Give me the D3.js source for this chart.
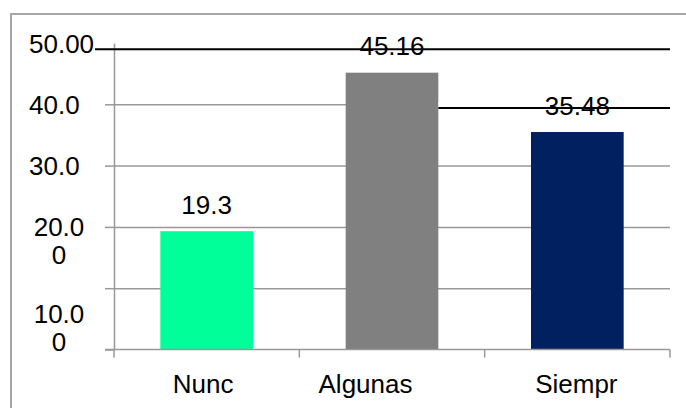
<!DOCTYPE html>
<html>
<head>
<meta charset="utf-8">
<script src="https://cdn.jsdelivr.net/npm/d3@7"></script>
<style>
  html, body { margin: 0; padding: 0; background: #fff; }
  svg { display: block; }
  text { font-family: "Liberation Sans", Arial, sans-serif; fill: #000; }
</style>
</head>
<body>
<svg id="chart" width="686" height="408"></svg>
<script>
// ---- data ----
const categories = ["Nunc", "Algunas", "Siempr"];
const values = [19.3, 45.16, 35.48];
const valueLabels = ["19.3", "45.16", "35.48"];
const barColors = ["#00FF99", "#808080", "#002060"];
const yTicks = [0, 10, 20, 30, 40];
const yTickLabels = [
  { v: 50, lines: ["50.00"] },
  { v: 40, lines: ["40.0"] },
  { v: 30, lines: ["30.0"] },
  { v: 20, lines: ["20.0", "0"] },
  { v: 10, lines: ["10.0", "0"] }
];
// black annotation rules (values on the y scale)
const ruleValues = [49.0, 39.4];

// ---- layout / style ----
const W = 686, H = 408;
const plot = { left: 114, right: 670, top: 43, bottom: 349.5 };
const fontSize = 26;
const gridColor = "#999999";
const catLabelDx = [-3.5, -26.5, -1];
const yLabelShift = { 10: 25 };

const svg = d3.select("#chart");

// outer frame (extends beyond right and bottom edge)
svg.append("rect")
  .attr("x", 11).attr("y", 14)
  .attr("width", W).attr("height", H)
  .attr("fill", "none").attr("stroke", "#a6a6a6").attr("stroke-width", 2);

const x = d3.scaleBand()
  .domain(categories)
  .range([plot.left, plot.right])
  .paddingInner(0.5).paddingOuter(0.25);

const y = d3.scaleLinear().domain([0, 50]).range([plot.bottom, plot.top]);

// gridlines
const grid = svg.append("g")
  .attr("transform", `translate(${plot.left},0)`)
  .call(d3.axisLeft(y).tickValues(yTicks.filter(d => d > 0))
    .tickSize(-(plot.right - plot.left)).tickFormat(""));
grid.select(".domain").remove();
grid.selectAll("line").attr("stroke", gridColor).attr("stroke-width", 1.5);

// y axis with outer ticks
const yAxis = svg.append("g")
  .attr("transform", `translate(${plot.left},0)`)
  .call(d3.axisLeft(y).tickValues(yTicks).tickSize(9).tickSizeOuter(0).tickFormat(""));
yAxis.select(".domain").attr("stroke", gridColor).attr("stroke-width", 1.5);
yAxis.selectAll("line").attr("stroke", gridColor).attr("stroke-width", 1.5);

// y tick labels
yTickLabels.forEach(t => {
  const multi = t.lines.length > 1;
  const base = y(t.v) + 9.5 + (yLabelShift[t.v] || 0);
  const txt = svg.append("text")
    .attr("font-size", fontSize)
    .attr("text-anchor", multi ? "middle" : "start");
  t.lines.forEach((ln, i) => {
    txt.append("tspan")
      .attr("x", multi ? 59 : 29)
      .attr("y", base + i * 28)
      .text(ln);
  });
});

// bars
svg.append("g").selectAll("rect")
  .data(categories)
  .join("rect")
  .attr("x", d => x(d))
  .attr("width", x.bandwidth())
  .attr("y", (d, i) => y(values[i]))
  .attr("height", (d, i) => y(0) - y(values[i]))
  .attr("fill", (d, i) => barColors[i]);

// mask over the 40 gridline right of the tallest bar (white shape under the rule)
svg.append("rect")
  .attr("x", x("Algunas") + x.bandwidth())
  .attr("y", y(ruleValues[1]) - 6)
  .attr("width", plot.right - (x("Algunas") + x.bandwidth()))
  .attr("height", 6)
  .attr("fill", "#fff");

// x axis
const xAxis = svg.append("g")
  .attr("transform", `translate(0,${plot.bottom})`);
xAxis.append("line")
  .attr("x1", plot.left - 9).attr("x2", plot.right)
  .attr("stroke", gridColor).attr("stroke-width", 1.5);
const bounds = categories.map(c => x(c) - x.step() * x.paddingInner() / 2)
  .concat([plot.right]);
bounds[0] = plot.left;
xAxis.selectAll("line.tick")
  .data(bounds)
  .join("line")
  .attr("class", "tick")
  .attr("x1", d => d).attr("x2", d => d)
  .attr("y1", 0).attr("y2", 8)
  .attr("stroke", gridColor).attr("stroke-width", 1.5);

// category labels
svg.append("g").selectAll("text")
  .data(categories)
  .join("text")
  .attr("x", (d, i) => x(d) + x.bandwidth() / 2 + catLabelDx[i])
  .attr("y", 393)
  .attr("text-anchor", "middle")
  .attr("font-size", fontSize)
  .text(d => d);

// black rules
svg.append("line")
  .attr("x1", 95).attr("x2", plot.right)
  .attr("y1", y(ruleValues[0])).attr("y2", y(ruleValues[0]))
  .attr("stroke", "#000").attr("stroke-width", 2);
svg.append("line")
  .attr("x1", x("Algunas") + x.bandwidth()).attr("x2", plot.right)
  .attr("y1", y(ruleValues[1])).attr("y2", y(ruleValues[1]))
  .attr("stroke", "#000").attr("stroke-width", 2);

// value labels
svg.append("g").selectAll("text")
  .data(categories)
  .join("text")
  .attr("x", d => x(d) + x.bandwidth() / 2)
  .attr("y", (d, i) => y(values[i]) - 17.5)
  .attr("text-anchor", "middle")
  .attr("font-size", fontSize)
  .text((d, i) => valueLabels[i]);
</script>
</body>
</html>
